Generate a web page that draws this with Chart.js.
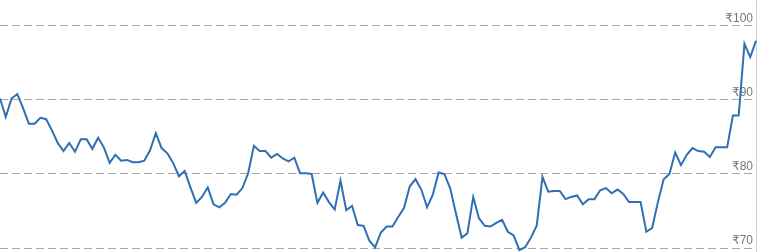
<!DOCTYPE html>
<html>
<head>
<meta charset="utf-8">
<script src="https://cdn.jsdelivr.net/npm/chart.js@4/dist/chart.umd.min.js"></script>
<style>
  body { margin: 0; background: #fff; }
  canvas { display: block; }
</style>
</head>
<body>
<canvas id="price" width="758" height="252"></canvas>
<script>
let priceArr = [
  90.2, 87.7, 90.2, 90.8, 88.9, 86.8, 86.8, 87.6, 87.4, 85.9,
  84.2, 83.1, 84.2, 83.0, 84.7, 84.7, 83.4, 84.9, 83.6, 81.5,
  82.6, 81.8, 81.9, 81.6, 81.6, 81.8, 83.2, 85.5, 83.5, 82.8,
  81.5, 79.7, 80.4, 78.2, 76.1, 76.9, 78.2, 75.9, 75.5, 76.1,
  77.3, 77.2, 78.1, 80.1, 83.8, 83.1, 83.1, 82.2, 82.7, 82.1,
  81.7, 82.2, 80.1, 80.1, 80.0, 76.1, 77.5, 76.2, 75.2, 79.1,
  75.1, 75.7, 73.1, 73.0, 71.0, 70.1, 72.1, 72.9, 72.9, 74.2,
  75.4, 78.3, 79.3, 77.9, 75.5, 77.2, 80.2, 80.0, 78.1, 74.7,
  71.4, 72.0, 76.9, 74.0, 73.0, 72.9, 73.4, 73.8, 72.2, 71.7,
  69.7, 70.1, 71.4, 73.0, 79.6, 77.6, 77.7, 77.7, 76.6, 76.9,
  77.1, 75.9, 76.6, 76.6, 77.8, 78.1, 77.4, 77.9, 77.3, 76.2,
  76.2, 76.2, 72.2, 72.7, 76.2, 79.3, 80.0, 82.9, 81.2, 82.6,
  83.5, 83.1, 83.0, 82.3, 83.6, 83.6, 83.6, 87.9, 87.9, 97.6,
  95.8, 98.0
];
let dayArr = priceArr.map((v, i) => i + 1);
let tickArr = [70, 80, 90, 100];

var pc = document.getElementById('price').getContext('2d');
var priceChart = new Chart(pc, {
    type: 'line',
    data: {
        labels: dayArr,
        datasets: [{
            label: 'Price',
            data: priceArr,
            fill: false,
            borderColor: '#2f6fb4',
            borderWidth: 2,
            pointRadius: 0,
            tension: 0
        }]
    },
    options: {
        responsive: false,
        animation: false,
        layout: {
            padding: { right: 2 }
        },
        scales: {
            x: {
                display: false
            },
            y: {
                position: 'right',
                min: 69.46,
                max: 103.51,
                afterBuildTicks: function (axis) {
                    axis.ticks = tickArr.map(v => ({ value: v }));
                },
                afterFit: function (axis) {
                    // labels sit inside the plot, so no extra room top/bottom
                    axis.paddingTop = 0;
                    axis.paddingBottom = 0;
                },
                grid: {
                    color: '#a6a6a6',
                    lineWidth: 1,
                    drawTicks: false
                },
                border: {
                    display: true,
                    color: '#d0d0d0',
                    dash: [8, 4]
                },
                ticks: {
                    mirror: true,
                    padding: -3,
                    labelOffset: -7,
                    color: '#777',
                    font: { family: 'Arial, "DejaVu Sans"', size: 12 },
                    callback: function (v) { return '₹' + v; }
                }
            }
        },
        plugins: {
            legend: { display: false },
            tooltip: { enabled: false }
        }
    }
});
</script>
</body>
</html>
